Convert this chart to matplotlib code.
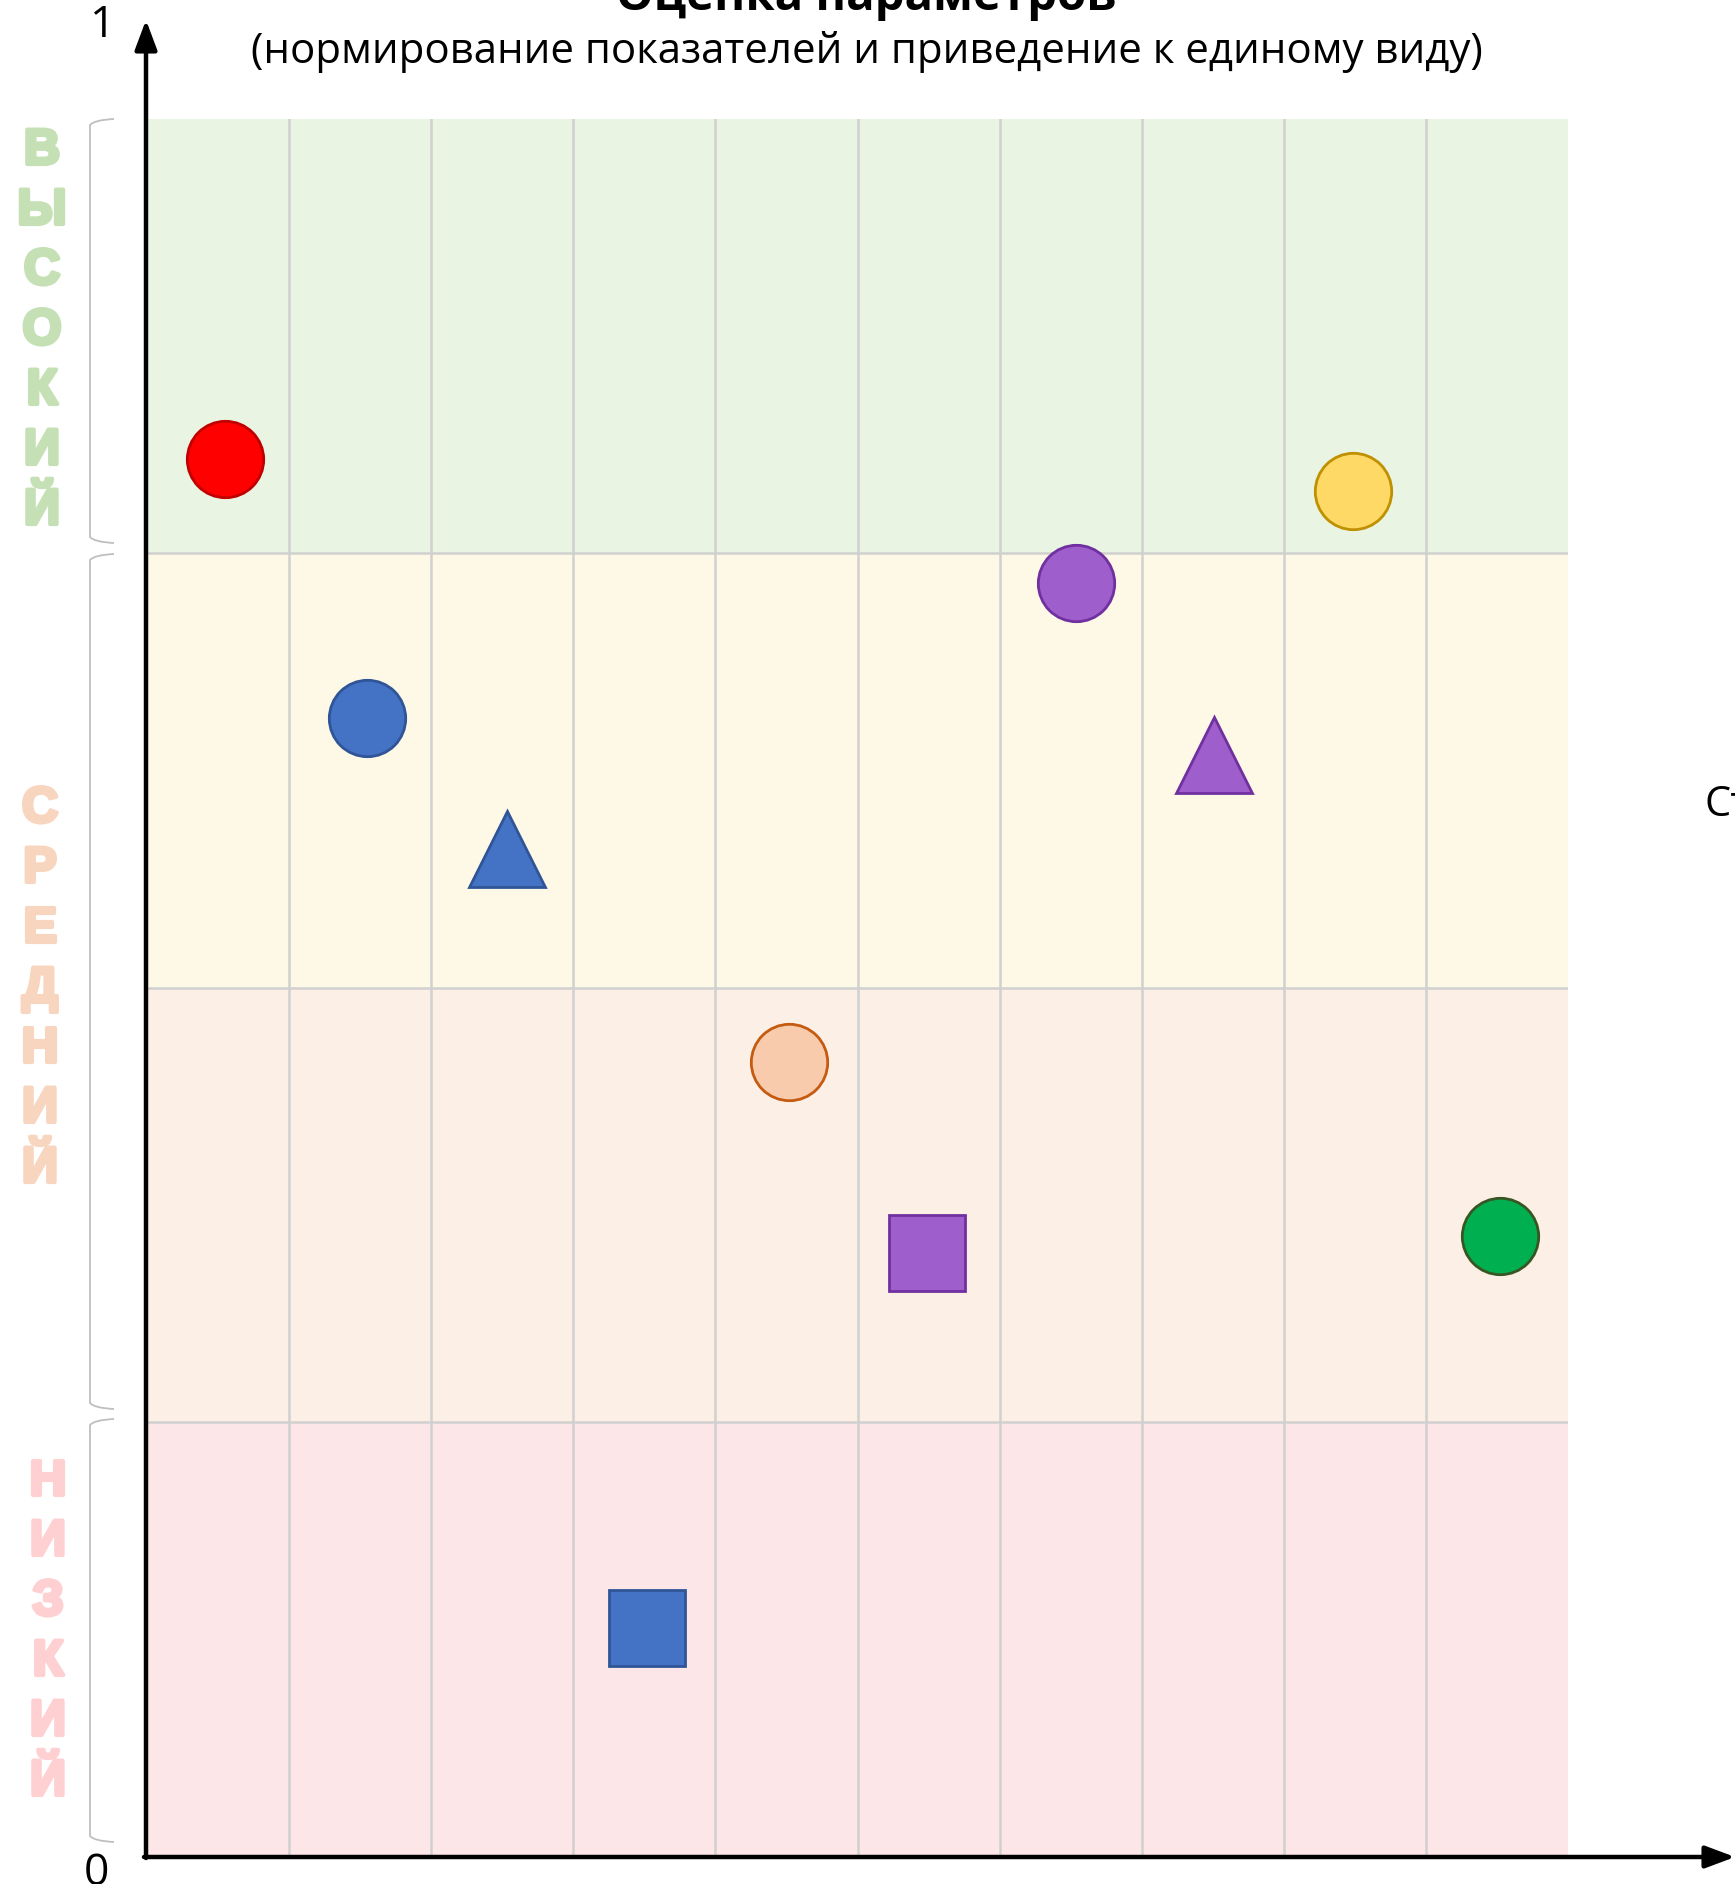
import matplotlib
matplotlib.use("Agg")
import matplotlib.pyplot as plt
import matplotlib.patheffects as pe
from matplotlib.path import Path
from matplotlib.patches import PathPatch, FancyArrowPatch

# ---- data ----
names = ["red_circle", "yellow_circle", "purple_circle", "blue_circle", "purple_triangle",
         "blue_triangle", "orange_circle", "purple_square", "green_circle", "blue_square"]
x_vals = [0.055, 0.849, 0.654, 0.155, 0.751, 0.253, 0.452, 0.549, 0.952, 0.352]
y_vals = [0.804, 0.786, 0.733, 0.655, 0.634, 0.580, 0.457, 0.347, 0.357, 0.131]
shapes = ["o", "o", "o", "o", "^", "^", "o", "s", "o", "s"]
fills = ["#ff0000", "#ffd966", "#9e5ecb", "#4472c4", "#9e5ecb",
         "#4472c4", "#f8cbad", "#9e5ecb", "#00b050", "#4472c4"]
edges = ["#c00000", "#bf9000", "#7030a0", "#2f5597", "#7030a0",
         "#2f5597", "#c55a11", "#7030a0", "#375623", "#2f5597"]

band_edges = [0.0, 0.25, 0.5, 0.75, 1.0]
band_colors = ["#fde6e7", "#fcf0e6", "#fef9e7", "#e9f4e2"]
n_cols = 10

level_words = ["ВЫСОКИЙ", "СРЕДНИЙ", "НИЗКИЙ"]
level_colors = ["#c5e0b4", "#f8d5bf", "#ffd0d2"]

title = "Оценка параметров"
subtitle = "(нормирование показателей и приведение к единому виду)"
right_label = "Степень"

W, H = 1735, 1884
fig = plt.figure(figsize=(W / 100, H / 100), dpi=100)

def fx(px):
    return px / W

def fy(py):
    return 1 - py / H

L, R, T, B = 147, 1568, 119, 1856
ax = fig.add_axes([fx(L), fy(B), fx(R - L), (B - T) / H])
ax.set_xlim(0, 1)
ax.set_ylim(0, 1)
ax.axis("off")

for i, c in enumerate(band_colors):
    ax.axhspan(band_edges[i], band_edges[i + 1], xmin=0, xmax=1, color=c, lw=0, zorder=0)
for k in range(1, n_cols):
    ax.axvline(k / n_cols, color="#d0d0d0", lw=1.8, zorder=1)
for yv in band_edges[1:-1]:
    ax.axhline(yv, color="#d0d0d0", lw=1.8, zorder=1)

for x, y, m, fc, ec in zip(x_vals, y_vals, shapes, fills, edges):
    ax.plot([x], [y], marker=m, markersize=55, markerfacecolor=fc, markeredgecolor=ec,
            markeredgewidth=2, linestyle="none", zorder=5, clip_on=False)

# axes arrows
fig.add_artist(FancyArrowPatch((fx(146), fy(1858)), (fx(146), fy(20)), transform=fig.transFigure,
                               arrowstyle="-|>,head_length=1.2,head_width=0.45", mutation_scale=15,
                               lw=3.2, color="black", shrinkA=0, shrinkB=0))
fig.add_artist(FancyArrowPatch((fx(144), fy(1857)), (fx(1735), fy(1857)), transform=fig.transFigure,
                               arrowstyle="-|>,head_length=1.2,head_width=0.45", mutation_scale=15,
                               lw=3.2, color="black", shrinkA=0, shrinkB=0))

txtfam = ["Open Sans", "DejaVu Sans"]
fig.text(fx(103), fy(26), "1", fontsize=32, family=txtfam, ha="center", va="center")
fig.text(fx(96), fy(1874), "0", fontsize=32, family=txtfam, ha="center", va="center")

fig.text(fx(866), fy(10), title, fontsize=34, fontweight="bold", family=txtfam,
         ha="center", va="baseline")
st = fig.text(fx(867), fy(52), subtitle, fontsize=30, family=txtfam, ha="center", va="center")
fig.canvas.draw()
wpx = st.get_window_extent().width
st.set_fontsize(30 * 1232 / wpx)
fig.text(fx(1704), fy(805), right_label, fontsize=30, family=txtfam, ha="left", va="center")

# vertical level words
word_centers = [(42, 147), (40, 805), (48, 1478)]
for word, col, (cx, cy0) in zip(level_words, level_colors, word_centers):
    for i, ch in enumerate(word):
        fig.text(fx(cx), fy(cy0 + 60 * i + 17), ch, fontsize=36, fontweight="bold",
                 family=["Liberation Sans", "DejaVu Sans"], color=col,
                 ha="center", va="baseline",
                 path_effects=[pe.withStroke(linewidth=3, foreground=col)])

# brackets
def bracket(top, bot):
    xr, xl = 114, 90
    verts = [(xr, top), (xl + 4, top + 1), (xl, top + 6), (xl, bot - 6), (xl + 4, bot - 1), (xr, bot)]
    codes = [Path.MOVETO, Path.CURVE3, Path.CURVE3, Path.LINETO, Path.CURVE3, Path.CURVE3]
    verts = [(fx(a), fy(b)) for a, b in verts]
    fig.add_artist(PathPatch(Path(verts, codes), fill=False, ec="#bfbfbf", lw=1.3,
                             transform=fig.transFigure))

bracket(119, 543)
bracket(554, 1409)
bracket(1419, 1842)

fig.savefig("out.png", dpi=100)
